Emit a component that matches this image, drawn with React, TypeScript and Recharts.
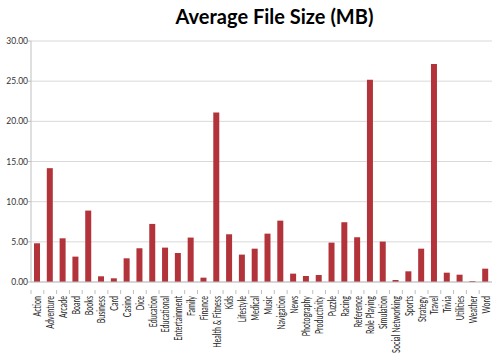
import { BarChart, Bar, XAxis, YAxis, CartesianGrid } from 'recharts'

const categories = [
  'Action', 'Adventure', 'Arcade', 'Board', 'Books', 'Business', 'Card', 'Casino', 'Dice',
  'Education', 'Educational', 'Entertainment', 'Family', 'Finance', 'Health & Fitness', 'Kids',
  'Lifestyle', 'Medical', 'Music', 'Navigation', 'News', 'Photography', 'Productivity', 'Puzzle',
  'Racing', 'Reference', 'Role Playing', 'Simulation', 'Social Networking', 'Sports', 'Strategy',
  'Travel', 'Trivia', 'Utilities', 'Weather', 'Word',
]

const avgSize = [
  4.82, 14.17, 5.44, 3.16, 8.89, 0.71, 0.46, 2.95, 4.2,
  7.23, 4.28, 3.61, 5.53, 0.54, 21.1, 5.94,
  3.41, 4.15, 6.02, 7.64, 1.04, 0.75, 0.87, 4.9,
  7.44, 5.57, 25.18, 5.03, 0.25, 1.33, 4.15,
  27.13, 1.16, 0.91, 0.12, 1.66,
]

const yTicks = [0, 5, 10, 15, 20, 25, 30]

const data = categories.map((name, i) => ({ name, size: avgSize[i] }))

const FONT = 'Lato, "Open Sans", sans-serif'
const PLOT_LEFT = 31
const PLOT_RIGHT = 8
const band = (500 - PLOT_LEFT - PLOT_RIGHT) / categories.length

// category labels: rotated, squeezed a bit to get close to the narrow Calibri look
function CategoryTick(props: any) {
  const { x, y, payload } = props
  return (
    <g>
      <line x1={x - band / 2} y1={y} x2={x - band / 2} y2={y + 4} stroke="#bfbfbf" />
      <text
        x={0}
        y={0}
        transform={`translate(${x + 4},${y + 6}) rotate(-90) scale(0.68,1)`}
        textAnchor="end"
        fontSize={10.5}
        fontFamily={FONT}
        fill="#262626"
      >
        {payload.value}
      </text>
    </g>
  )
}

export default function App() {
  return (
    <div style={{ position: 'absolute', left: 0, top: 0, width: 500, height: 360, background: '#fff' }}>
      <div
        style={{
          position: 'absolute',
          left: 0,
          width: 549,
          top: 4,
          textAlign: 'center',
          fontFamily: FONT,
          fontWeight: 700,
          fontSize: 20,
          color: '#000',
        }}
      >
        Average File Size (MB)
      </div>
      <BarChart
        width={500}
        height={360}
        data={data}
        margin={{ top: 41, right: PLOT_RIGHT, left: 0, bottom: 0 }}
        barCategoryGap={0}
      >
        <CartesianGrid vertical={false} stroke="#d9d9d9" />
        <XAxis
          dataKey="name"
          interval={0}
          height={78}
          tick={<CategoryTick />}
          tickLine={false}
          axisLine={{ stroke: '#bfbfbf' }}
        />
        <YAxis
          width={PLOT_LEFT}
          domain={[0, 30]}
          ticks={yTicks}
          tickFormatter={(v: number) => v.toFixed(2)}
          tick={{ fontSize: 8.5, fontFamily: FONT, fill: '#333', dx: 2 }}
          tickSize={3}
          tickLine={{ stroke: '#bfbfbf' }}
          axisLine={{ stroke: '#bfbfbf' }}
        />
        <Bar dataKey="size" fill="#b2343a" barSize={6} isAnimationActive={false} />
      </BarChart>
    </div>
  )
}
